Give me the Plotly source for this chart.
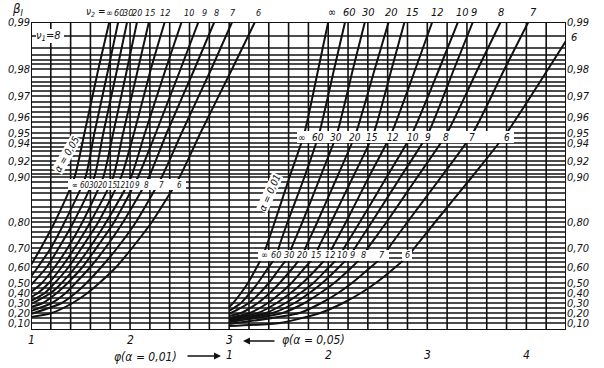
import numpy as np
import plotly.graph_objects as go

# ---------------- data ----------------
NU2 = ["∞", "60", "30", "20", "15", "12", "10", "9", "8", "7", "6"]

# alpha = 0.05 family : power at phi = 1, then phi at which the power reaches each level
P_LEVELS_05 = [0.20, 0.30, 0.40, 0.50, 0.60, 0.70, 0.80, 0.90, 0.95, 0.98, 0.99]
P_START_05 = [0.61, 0.54, 0.48, 0.41, 0.36, 0.32, 0.29, 0.26, 0.22, 0.19, 0.16]
PHI_05 = [
    [None, None, None, None, None, 1.10, 1.24, 1.44, 1.54, 1.68, 1.79],
    [None, None, None, None, 1.07, 1.20, 1.34, 1.55, 1.64, 1.78, 1.88],
    [None, None, None, None, 1.16, 1.28, 1.43, 1.64, 1.73, 1.87, 1.97],
    [None, None, None, 1.11, 1.24, 1.37, 1.52, 1.73, 1.83, 1.97, 2.07],
    [None, None, 1.07, 1.18, 1.31, 1.44, 1.60, 1.83, 1.93, 2.08, 2.19],
    [None, None, 1.14, 1.24, 1.38, 1.51, 1.68, 1.91, 2.04, 2.21, 2.35],
    [None, None, 1.20, 1.31, 1.45, 1.59, 1.76, 2.01, 2.15, 2.36, 2.52],
    [None, 1.12, 1.26, 1.37, 1.52, 1.66, 1.84, 2.08, 2.26, 2.51, 2.69],
    [None, 1.21, 1.35, 1.45, 1.60, 1.75, 1.93, 2.19, 2.37, 2.65, 2.85],
    [None, 1.31, 1.45, 1.56, 1.71, 1.87, 2.06, 2.32, 2.52, 2.82, 3.03],
    [1.21, 1.42, 1.57, 1.69, 1.86, 2.02, 2.22, 2.50, 2.71, 3.03, 3.26],
]

# alpha = 0.01 family
P_LEVELS_01 = [0.10, 0.20, 0.30, 0.40, 0.50, 0.60, 0.66, 0.70, 0.80, 0.90, 0.95, 0.98, 0.99]
P_START_01 = [0.26, 0.22, 0.19, 0.17, 0.15, 0.14, 0.13, 0.12, 0.11, 0.09, 0.07]
PHI_01 = [
    [None, None, 1.04, 1.12, 1.19, 1.28, 1.34, 1.37, 1.46, 1.61, 1.76, 1.90, 2.00],
    [None, None, 1.12, 1.21, 1.29, 1.40, 1.48, 1.50, 1.59, 1.76, 1.91, 2.06, 2.17],
    [None, None, 1.20, 1.31, 1.40, 1.52, 1.61, 1.63, 1.74, 1.92, 2.09, 2.25, 2.37],
    [None, 1.12, 1.29, 1.41, 1.51, 1.65, 1.74, 1.77, 1.89, 2.09, 2.28, 2.47, 2.61],
    [None, 1.21, 1.39, 1.52, 1.63, 1.77, 1.87, 1.90, 2.03, 2.25, 2.46, 2.64, 2.77],
    [None, 1.29, 1.48, 1.62, 1.74, 1.90, 2.00, 2.04, 2.18, 2.41, 2.64, 2.88, 3.05],
    [None, 1.37, 1.57, 1.72, 1.85, 2.01, 2.12, 2.16, 2.32, 2.59, 2.85, 3.12, 3.31],
    [None, 1.44, 1.66, 1.81, 1.94, 2.11, 2.22, 2.27, 2.44, 2.73, 3.01, 3.27, 3.46],
    [None, 1.54, 1.76, 1.92, 2.06, 2.24, 2.35, 2.40, 2.59, 2.90, 3.20, 3.51, 3.74],
    [None, 1.71, 1.93, 2.10, 2.24, 2.43, 2.56, 2.61, 2.80, 3.14, 3.46, 3.78, 4.02],
    [1.51, 1.92, 2.15, 2.33, 2.48, 2.68, 2.81, 2.87, 3.08, 3.45, 3.80, 4.22, 4.52],
]

P_TICKS = [0.10, 0.20, 0.30, 0.40, 0.50, 0.60, 0.70, 0.80, 0.90, 0.92, 0.94, 0.95, 0.96, 0.97, 0.98, 0.99]
P_TICK_TEXT = ["0,10", "0,20", "0,30", "0,40", "0,50", "0,60", "0,70", "0,80", "0,90",
               "0,92", "0,94", "0,95", "0,96", "0,97", "0,98", "0,99"]
PHI05_TICKS = [1, 2, 3]
PHI01_TICKS = [1, 2, 3, 4]

# ---------------- the nomogram's power scale ----------------
SCALE_P = [0.0, 0.10, 0.20, 0.30, 0.40, 0.50, 0.60, 0.70, 0.80, 0.90, 0.92, 0.94, 0.95, 0.96, 0.97, 0.98, 0.99]
SCALE_U = [-3, 7, 17, 27, 37, 47, 63, 82, 108, 153, 169, 187, 197, 213, 234, 261, 308]
U_MAX = 308
X05_RANGE = [1.0, 6.4]
X01_RANGE = [-1.0, 4.4]


def su(p):
    return np.interp(p, SCALE_P, SCALE_U)


# layout helpers (pixel -> paper / axis units, for placing text and grid)
L, R, T, B = 31, 566, 22, 330


def ax(px):
    return X05_RANGE[0] + (px - L) * (X05_RANGE[1] - X05_RANGE[0]) / (R - L)


def ay(py):
    return B - py


def pxp(px):
    return (px - L) / (R - L)


def pyp(py):
    return (B - py) / (B - T)


FONT = "Liberation Sans Narrow, DejaVu Sans Condensed, Liberation Sans, Arial"
INK = "#111111"

fig = go.Figure()

for levels, starts, phis, xa in [
    (P_LEVELS_05, P_START_05, PHI_05, "x"),
    (P_LEVELS_01, P_START_01, PHI_01, "x2"),
]:
    for i, name in enumerate(NU2):
        xs = [1.0] + [v for v in phis[i] if v is not None]
        ps = [starts[i]] + [lv for lv, v in zip(levels, phis[i]) if v is not None]
        fig.add_trace(go.Scatter(
            x=xs, y=su(ps), xaxis=xa, yaxis="y", mode="lines",
            line=dict(color=INK, width=2, shape="spline", smoothing=0.6),
            name=name, showlegend=False, hoverinfo="skip"))

# invisible trace so that the right-hand mirror axis is drawn
fig.add_trace(go.Scatter(x=[1], y=[0], xaxis="x", yaxis="y2", mode="markers",
                         marker=dict(opacity=0), showlegend=False, hoverinfo="skip"))

shapes = []
for k in range(28):
    xv = X05_RANGE[0] + 0.2 * k
    shapes.append(dict(type="line", xref="x", yref="y", x0=xv, x1=xv, y0=0, y1=U_MAX,
                       line=dict(color=INK, width=1.6), layer="below"))
GRID_Y_PX = [22, 36, 48, 55, 60, 64, 69, 77, 82, 86, 91, 96, 102, 107, 112, 117, 122, 127, 133,
             138, 143, 147, 151, 156, 161, 165, 170, 174, 177, 182, 188, 193, 200, 207, 212, 218,
             222, 227, 232, 237, 243, 248, 253, 258, 262, 267, 272, 277, 283, 288, 293, 298, 303,
             308, 313, 318, 323, 330]
for py in GRID_Y_PX:
    shapes.append(dict(type="line", xref="x", yref="y", x0=X05_RANGE[0], x1=X05_RANGE[1],
                       y0=ay(py), y1=ay(py), line=dict(color=INK, width=1.3), layer="below"))
shapes.append(dict(type="rect", xref="x", yref="y", x0=X05_RANGE[0], x1=X05_RANGE[1], y0=0, y1=U_MAX,
                   line=dict(color=INK, width=2), layer="above"))
for (x0, x1, y0, y1) in [(68, 186, 179, 190), (297, 514, 131, 143), (258, 389, 250, 261),
                         (402, 412, 250, 261), (36, 64, 29, 43)]:
    shapes.append(dict(type="rect", xref="x", yref="y", x0=ax(x0), x1=ax(x1), y0=ay(y1), y1=ay(y0),
                       fillcolor="white", line=dict(width=0), layer="above"))

ann = []


def txt(px, py, s, size=10, xanchor="center", angle=0, bg=None):
    d = dict(x=pxp(px), y=pyp(py), xref="paper", yref="paper", text="<i>" + s + "</i>",
             showarrow=False, xanchor=xanchor, yanchor="middle", textangle=angle,
             font=dict(family=FONT, size=size, color=INK))
    if bg:
        d["bgcolor"] = bg
        d["borderpad"] = 0
    ann.append(d)


TOP05_X = [109, 119, 128, 137, 150, 165, 189, 204, 216, 233, 258]
TOP01_X = [332, 349, 368, 391, 412, 437, 462, 474, 501, 533]
MID05_X = [75, 85, 94, 103, 113, 121, 130, 137, 146, 161, 179]
UP01_X = [302, 318, 336, 355, 372, 393, 413, 428, 446, 472, 507]
LOW01_X = [264, 276, 289, 302, 316, 330, 342, 352, 363, 382, 407]
txt(95, 13, "ν<sub>2</sub> =", size=10)
for i, name in enumerate(NU2):
    txt(TOP05_X[i], 13, name, size=9)
    txt(MID05_X[i], 185, name, size=8)
    txt(UP01_X[i], 137, name, size=10)
    txt(LOW01_X[i], 255, name, size=9)
for i, name in enumerate(NU2[:-1]):
    txt(TOP01_X[i], 13, name, size=11)
txt(569, 37, NU2[-1], size=11, xanchor="left")

txt(48, 36, "ν<sub>1</sub>=8", size=11)
txt(67, 155, "α = 0,05", size=10, angle=-60, bg="white")
txt(269, 193, "α = 0,01", size=10, angle=-66, bg="white")
txt(18, 9, "β<sub>I</sub>", size=13)

for v in PHI05_TICKS:
    txt(L + (v - X05_RANGE[0]) * (R - L) / (X05_RANGE[1] - X05_RANGE[0]), 340, str(v), size=12)
for v in PHI01_TICKS:
    txt(L + (v - X01_RANGE[0]) * (R - L) / (X01_RANGE[1] - X01_RANGE[0]), 355, str(v), size=12)
txt(313, 340, "φ(α = 0,05)", size=12)
txt(145, 357, "φ(α = 0,01)", size=12)
ann.append(dict(x=pxp(243), y=pyp(341), xref="paper", yref="paper", text=" ", showarrow=True,
                ax=34, ay=0, arrowhead=2, arrowsize=1, arrowwidth=1.4, arrowcolor=INK,
                font=dict(size=6)))
ann.append(dict(x=pxp(221), y=pyp(356), xref="paper", yref="paper", text=" ", showarrow=True,
                ax=-36, ay=0, arrowhead=2, arrowsize=1, arrowwidth=1.4, arrowcolor=INK,
                font=dict(size=6)))

tickfont = dict(family=FONT, size=11, color=INK)
tick_text = ["<i>" + t + "</i>" for t in P_TICK_TEXT]
fig.update_layout(
    template="none",
    width=604, height=368, autosize=False,
    margin=dict(l=L, r=604 - R, t=T, b=368 - B, pad=0),
    paper_bgcolor="white", plot_bgcolor="white",
    showlegend=False,
    shapes=shapes, annotations=ann,
    xaxis=dict(range=X05_RANGE, showgrid=False, zeroline=False, showline=False,
               showticklabels=False, ticks="", automargin=False),
    xaxis2=dict(range=X01_RANGE, overlaying="x", visible=False, automargin=False),
    yaxis=dict(range=[0, U_MAX], showgrid=False, zeroline=False, showline=False,
               tickmode="array", tickvals=list(su(P_TICKS)), ticktext=tick_text,
               ticks="", tickfont=tickfont, automargin=False),
    yaxis2=dict(range=[0, U_MAX], overlaying="y", side="right", showgrid=False, zeroline=False,
                showline=False, tickmode="array", tickvals=list(su(P_TICKS)), ticktext=tick_text,
                ticks="", tickfont=tickfont, automargin=False),
)

fig.write_html("out.html", config={"displayModeBar": False},
               post_script="document.body.style.margin='0px';document.body.style.overflow='hidden';")
